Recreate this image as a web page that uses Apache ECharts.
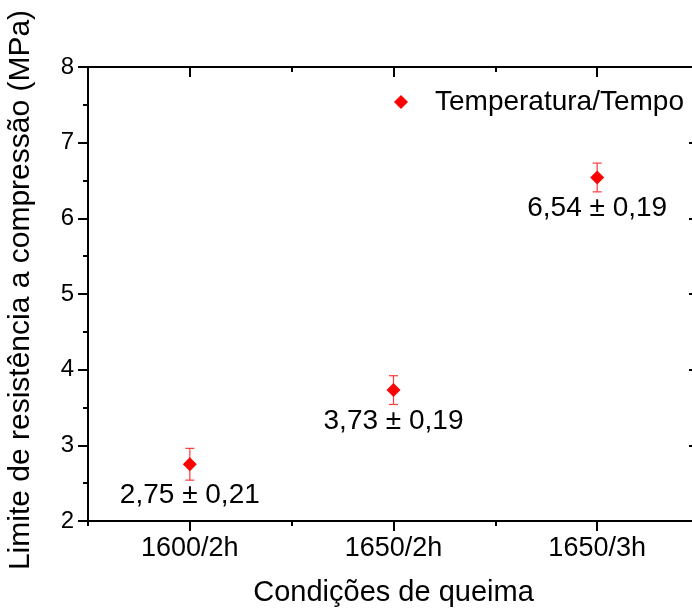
<!DOCTYPE html>
<html>
<head>
<meta charset="utf-8">
<script src="https://cdn.jsdelivr.net/npm/echarts@6/dist/echarts.min.js"></script>
<style>
  html, body { margin: 0; padding: 0; background: #fff; }
  #chart { width: 692px; height: 609px; }
</style>
</head>
<body>
<div id="chart"></div>
<script>
var categories = ['1600/2h', '1650/2h', '1650/3h']
var values = [2.75, 3.73, 6.54]
var errors = [0.21, 0.19, 0.19]
var pointLabels = ['2,75 ± 0,21', '3,73 ± 0,19', '6,54 ± 0,19']
var yTicks = [2, 3, 4, 5, 6, 7, 8]

var font = 'Arial, "Liberation Sans", sans-serif'
var lineStyle = { color: '#000', width: 2 }

var errData = values.map(function(v, i) {
  return [i, v - errors[i], v + errors[i]]
})

var chart = echarts.init(document.getElementById('chart'))

function catAxis(pos, major, show) {
  return {
    type: 'category',
    position: pos,
    data: categories,
    boundaryGap: true,
    axisLine: { show: show, lineStyle: lineStyle },
    axisTick: {
      show: true,
      alignWithLabel: major,
      inside: pos === 'top',
      length: major ? 10 : 5,
      lineStyle: lineStyle
    },
    axisLabel: {
      show: pos === 'bottom' && major,
      color: '#000',
      fontFamily: font,
      fontSize: 27,
      margin: 14
    },
    splitLine: { show: false }
  }
}

function valAxis(pos) {
  return {
    type: 'value',
    position: pos,
    min: yTicks[0],
    max: yTicks[yTicks.length - 1],
    interval: 1,
    axisLine: { show: true, lineStyle: lineStyle },
    axisTick: { show: true, inside: pos === 'right', length: 10, lineStyle: lineStyle },
    minorTick: { show: true, splitNumber: 2, length: 5, lineStyle: { color: '#000', width: 2 } },
    axisLabel: {
      show: pos === 'left',
      color: '#000',
      fontFamily: font,
      fontSize: 24,
      margin: 14
    },
    splitLine: { show: false },
    name: pos === 'left' ? 'Limite de resistência a compressão (MPa)' : '',
    nameLocation: 'middle',
    nameGap: 52,
    nameTextStyle: { color: '#000', fontFamily: font, fontSize: 30, padding: [0, 0, 0, 8] }
  }
}

var xMain = catAxis('bottom', true, true)
xMain.name = 'Condições de queima'
xMain.nameLocation = 'middle'
xMain.nameGap = 57
xMain.nameTextStyle = { color: '#000', fontFamily: font, fontSize: 29 }

chart.setOption({
  backgroundColor: '#fff',
  animation: false,
  grid: { left: 88, top: 67, right: -7, bottom: 88, outerBoundsMode: 'none', containLabel: false },
  legend: {
    left: 389,
    top: 83,
    itemWidth: 14,
    itemHeight: 14,
    itemGap: 0,
    icon: 'diamond',
    textStyle: { color: '#000', fontFamily: font, fontSize: 28, padding: [0, 0, 0, 22] },
    data: ['Temperatura/Tempo']
  },
  xAxis: [
    xMain,
    catAxis('bottom', false, false),
    catAxis('top', true, true),
    catAxis('top', false, false)
  ],
  yAxis: [valAxis('left'), valAxis('right')],
  series: [
    {
      type: 'custom',
      name: 'erro',
      xAxisIndex: 0,
      yAxisIndex: 0,
      z: 1,
      encode: { x: 0, y: [1, 2] },
      data: errData,
      renderItem: function(params, api) {
        var lo = api.coord([api.value(0), api.value(1)])
        var hi = api.coord([api.value(0), api.value(2)])
        var w = 4.5
        var st = { stroke: '#ff3b3b', lineWidth: 1.2 }
        return {
          type: 'group',
          children: [
            { type: 'line', shape: { x1: lo[0], y1: lo[1], x2: hi[0], y2: hi[1] }, style: st },
            { type: 'line', shape: { x1: lo[0] - w, y1: lo[1], x2: lo[0] + w, y2: lo[1] }, style: st },
            { type: 'line', shape: { x1: hi[0] - w, y1: hi[1], x2: hi[0] + w, y2: hi[1] }, style: st }
          ]
        }
      }
    },
    {
      type: 'scatter',
      name: 'Temperatura/Tempo',
      xAxisIndex: 0,
      yAxisIndex: 0,
      z: 2,
      symbol: 'diamond',
      symbolSize: [14, 14],
      itemStyle: { color: '#ff0000', opacity: 1 },
      data: values,
      label: {
        show: true,
        position: 'bottom',
        distance: 10,
        color: '#000',
        opacity: 1,
        textBorderWidth: 0,
        fontFamily: font,
        fontSize: 28,
        formatter: function(p) { return pointLabels[p.dataIndex] }
      }
    }
  ]
})
</script>
</body>
</html>
